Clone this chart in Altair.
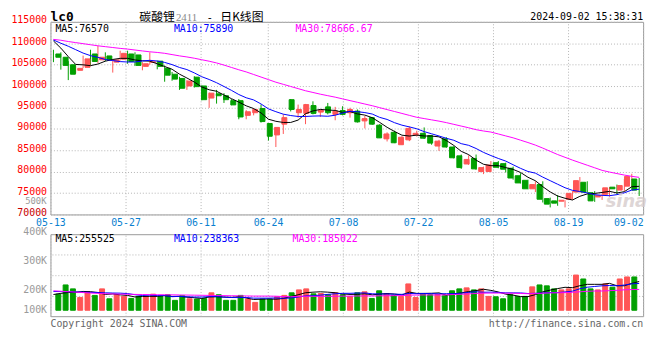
import altair as alt
import pandas as pd

# ---------------- data ----------------
day = list(range(1, 81))

open_ = [107491, 106728, 104974, 103677, 104364, 107491, 106118, 107033, 105584, 106271,
         107491, 107262, 104593, 105508, 105813, 104135, 102762, 101771, 100016, 102076,
         100017, 97195, 98186, 97729, 96585, 96585, 93152, 93763, 94754, 91245,
         88576, 91093, 96813, 93763, 93610, 95440, 93915, 95135, 93381, 94296,
         93763, 94144, 91856, 92619, 90865, 87661, 89187, 86288, 87432, 88576,
         88958, 88424, 85983, 87661, 85754, 83695, 81788, 83085, 80034, 80034,
         82094, 81865, 80797, 79043, 77975, 75992, 76984, 73704, 73170, 73094,
         73552, 75229, 77518, 75077, 74085, 74695, 76374, 75687, 76603, 78280]
high = [108482, 107872, 105813, 104821, 107110, 108482, 109398, 107872, 106194, 108254,
        108254, 107872, 105584, 107872, 105965, 104821, 103296, 102152, 101389, 102305,
        100169, 98491, 99101, 98339, 96966, 96966, 94372, 94830, 95669, 91245,
        90330, 93381, 96966, 95669, 95822, 96432, 94525, 96051, 95135, 95288,
        94907, 94525, 92999, 92771, 91093, 89187, 89568, 88271, 90560, 89568,
        90331, 88576, 87432, 88043, 85907, 83998, 83847, 83998, 81178, 82475,
        82475, 82094, 81178, 79653, 78128, 77746, 77746, 73933, 74543, 73323,
        75458, 78738, 77746, 75458, 74924, 76450, 76984, 78280, 79501, 78509]
low = [105584, 103830, 101389, 102915, 104211, 104821, 105356, 105813, 103143, 105965,
       105203, 104669, 103677, 104974, 103906, 101008, 101237, 99101, 99101, 99635,
       96661, 94906, 95898, 96051, 95517, 92237, 92237, 93152, 91474, 87279,
       85754, 88805, 94068, 92618, 91093, 93381, 92771, 93381, 92008, 93152,
       92619, 91475, 90102, 90941, 87890, 87051, 86670, 86288, 87127, 88195,
       87661, 86288, 84839, 85602, 83085, 80644, 81560, 80416, 79424, 79882,
       80797, 79806, 78128, 77212, 75840, 75229, 72789, 71645, 72026, 71645,
       73399, 75077, 75077, 72941, 73399, 74162, 74695, 75458, 76450, 74314]
close = [106728, 104821, 102762, 104135, 106347, 105737, 106728, 106118, 106118, 107643,
         105737, 104821, 105203, 105661, 104593, 102533, 101618, 99483, 101161, 99864,
         96813, 98339, 97729, 96813, 95593, 92771, 93991, 94525, 91703, 88271,
         90330, 92618, 94525, 94525, 95669, 93610, 94372, 93763, 94144, 93381,
         94525, 91627, 92390, 91093, 87890, 88805, 86746, 88043, 90102, 88958,
         87814, 86670, 87127, 85754, 83237, 80949, 82855, 80644, 80949, 81560,
         81026, 80568, 78509, 77365, 75992, 76984, 73552, 72408, 72636, 73323,
         74924, 77899, 75229, 73170, 74467, 76221, 75992, 76755, 78891, 75687]
ma5 = [110540, 108860, 106880, 105050, 104960, 104760, 105140, 105810, 106210, 106470,
       106470, 106090, 105900, 105810, 105200, 104560, 103920, 102780, 101880, 100930,
       99790, 99130, 98780, 97910, 97060, 96250, 95380, 94740, 93720, 92250,
       91760, 91490, 91490, 92050, 93530, 94190, 94540, 94390, 94310, 93850,
       94040, 93490, 93210, 92600, 91510, 90360, 89390, 88520, 88320, 88530,
       88330, 88320, 88130, 87270, 86120, 84750, 83980, 82690, 81730, 81390,
       81410, 80950, 80520, 79810, 78690, 77880, 76480, 75260, 74310, 73780,
       73370, 74240, 74800, 74910, 75140, 75400, 75020, 75320, 76470, 76570]
ma10 = [110760, 110000, 109300, 108500, 107700, 107100, 106700, 106200, 105950, 105710,
        105620, 105620, 105860, 106010, 105840, 105520, 105010, 104340, 103850, 103070,
        102180, 101530, 100780, 99900, 99000, 98020, 97260, 96760, 95810, 94660,
        94010, 93430, 93110, 92890, 92890, 92980, 93020, 92940, 93180, 93690,
        94110, 94010, 93800, 93460, 92680, 92200, 91440, 90860, 90460, 90020,
        89350, 88850, 88330, 87790, 87330, 86540, 86150, 85410, 84500, 83760,
        83080, 82470, 81610, 80770, 80040, 79650, 78720, 77890, 77060, 76240,
        75630, 75360, 75030, 74610, 74460, 74380, 74630, 75060, 75690, 75890]
ma30 = [110900, 110700, 110400, 110150, 109900, 109650, 109400, 109200, 109000, 108800,
        108630, 108420, 108200, 108000, 107850, 107650, 107350, 107050, 106800, 106500,
        106150, 105800, 105400, 104900, 104350, 103800, 103300, 102700, 102100, 101500,
        100900, 100400, 99900, 99400, 98900, 98500, 98100, 97750, 97400, 97000,
        96600, 96200, 95800, 95400, 94950, 94500, 94050, 93600, 93150, 92700,
        92400, 92100, 91800, 91450, 91050, 90650, 90250, 89800, 89500, 89250,
        88800, 88350, 87900, 87350, 86800, 86200, 85500, 84750, 84000, 83350,
        82700, 82100, 81500, 80900, 80300, 79900, 79550, 79200, 78900, 78667]

# volumes in thousands
vol_k = [143, 225, 190, 114, 164, 132, 190, 102, 138, 123,
         105, 123, 123, 143, 123, 138, 88, 129, 102, 100,
         105, 155, 138, 88, 88, 132, 100, 70, 100, 100,
         120, 132, 155, 181, 190, 146, 149, 138, 155, 138,
         123, 155, 164, 105, 173, 146, 132, 123, 234, 114,
         146, 138, 140, 129, 173, 190, 199, 181, 190, 123,
         120, 102, 138, 123, 123, 208, 225, 217, 190, 181,
         190, 313, 278, 190, 181, 234, 205, 278, 296, 296]
vma5_k = [140, 150, 158, 160, 167.2, 165, 158, 140.4, 145.2, 137,
          131.6, 118.2, 122.4, 123.4, 123.4, 130, 123, 124.2, 116, 111.4,
          104.8, 118.2, 120, 117.2, 114.8, 120.2, 109.2, 95.6, 98, 100.4,
          98, 104.4, 121.4, 137.6, 155.6, 160.8, 164.2, 160.8, 155.6, 145.2,
          140.6, 141.8, 147, 137, 144, 148.6, 144, 135.8, 161.6, 149.8,
          149.8, 151, 154.4, 133.4, 145.2, 154, 166.2, 174.4, 186.6, 176.6,
          162.6, 143.2, 134.6, 121.2, 121.2, 138.8, 163.4, 179.2, 192.6, 204.2,
          200.6, 218.2, 230.4, 230.4, 230.4, 239.2, 217.6, 217.6, 238.8, 255.5]
vma10_k = [167, 166, 165, 163, 161, 159, 157, 155, 153, 152.1,
           148.3, 138.1, 131.4, 134.3, 130.2, 130.8, 120.6, 123.3, 119.7, 117.4,
           117.4, 120.6, 122.1, 116.6, 113.1, 112.5, 113.7, 107.8, 107.6, 107.6,
           109.1, 106.8, 108.5, 117.8, 128, 129.4, 134.3, 141.1, 146.6, 150.4,
           150.7, 153, 153.9, 146.3, 144.6, 144.6, 142.9, 141.4, 149.3, 146.9,
           149.2, 147.5, 145.1, 147.5, 147.5, 151.9, 158.6, 164.4, 160, 160.9,
           158.3, 154.7, 154.5, 153.9, 148.9, 150.7, 153.3, 156.9, 156.9, 162.7,
           169.7, 190.8, 204.8, 211.5, 217.3, 219.9, 217.9, 224, 234.6, 238.4]
vma30_k = [173, 169, 165, 161, 157, 153, 150, 147, 145, 143,
           142, 141, 140, 139, 138, 138, 137, 136, 135, 134,
           133, 132, 131, 130, 129, 128, 127, 126, 126, 125.7,
           124.9, 121.8, 120.7, 122.9, 123.8, 124.2, 122.9, 124.1, 124.6, 125.1,
           125.7, 126.8, 128.2, 126.9, 128.6, 128.8, 130.3, 130.1, 134.5, 135,
           136.3, 135.8, 135.8, 137.2, 140, 142, 145.3, 149, 152, 152.7,
           152.7, 151.7, 151.2, 149.2, 147, 149.1, 151.6, 154.2, 155.4, 156.8,
           159.1, 164.3, 168.1, 171, 171.2, 174.2, 176.6, 181.8, 183.8, 185.0]

tick_days = [0, 10, 20, 29, 39, 49, 59, 69, 79]
tick_labels = ["05-13", "05-27", "06-11", "06-24", "07-08", "07-22", "08-05", "08-19", "09-02"]
price_ticks = [70000, 75000, 80000, 85000, 90000, 95000, 100000, 105000, 110000, 115000]
vol_label_vals = [-17560, 158040, 412660, 676000]
vol_label_text = ["100K", "200K", "300K", "400K"]
vol_grid_vals = [122920, 307300, 491680]

# ---------------- styling ----------------
FONT = "DejaVu Sans Mono"
CJK = "Noto Sans CJK SC"
RED = "#ff5555"
GREEN = "#00a000"
GRID = "#b4b4b4"
W, H_MAIN, H_VOL = 600, 195, 83

df = pd.DataFrame({
    "n": day, "open": open_, "high": high, "low": low, "close": close,
    "ma5": ma5, "ma10": ma10, "ma30": ma30,
    "vol": [v * 1000 for v in vol_k],
    "vma5": [v * 1000 for v in vma5_k],
    "vma10": [v * 1000 for v in vma10_k],
    "vma30": [v * 1000 for v in vma30_k],
})
ticks_df = pd.DataFrame({"d": tick_days})
vgrid_df = pd.DataFrame({"g": vol_grid_vals})

date_expr = " : ".join(f"datum.value == {d} ? '{l}'" for d, l in zip(tick_days, tick_labels)) + " : ''"
vol_expr = " : ".join(f"datum.value == {v} ? '{t}'" for v, t in zip(vol_label_vals, vol_label_text)) + " : ''"

cand_scale = alt.Scale(domain=[0.6, 80.53], nice=False, zero=False)
day_scale = alt.Scale(domain=[0, 79], nice=False, zero=False)
price_scale = alt.Scale(domain=[70000, 115000], nice=False, zero=False)
vol_scale = alt.Scale(domain=[-52700, 676000], nice=False, zero=False)

xs = alt.X("n:Q", scale=cand_scale, axis=None)
price_axis = alt.Axis(values=price_ticks, format="d", title=None, grid=True, gridColor=GRID,
                      gridDash=[1, 2], ticks=False, domain=False, labelPadding=4, labelOffset=-2,
                      labelFont=FONT, labelFontSize=10,
                      labelColor={"condition": {"test": "datum.value == 70000", "value": "#c80000"},
                                  "value": "#ff0000"})
vol_axis = alt.Axis(values=vol_label_vals, labelExpr=vol_expr, title=None, grid=False, ticks=False,
                    domain=False, labelPadding=4, labelOffset=-3, labelColor="#9a9a9a",
                    labelFont=FONT, labelFontSize=10)
up_color = alt.condition("datum.close >= datum.open", alt.value(RED), alt.value(GREEN))


def txt(text, x, y, color="#000000", size=10, align="left", font=FONT, weight="normal",
        baseline="middle", style="normal", opacity=1.0):
    return alt.Chart(pd.DataFrame({"t": [text]})).mark_text(
        align=align, baseline=baseline, font=font, fontSize=size, color=color,
        fontWeight=weight, fontStyle=style, opacity=opacity
    ).encode(x=alt.value(x), y=alt.value(y), text="t:N")


# ---------------- main (price) panel ----------------
grid_main = alt.Chart(ticks_df).mark_point(opacity=0).encode(
    x=alt.X("d:Q", scale=day_scale,
            axis=alt.Axis(values=tick_days, labelExpr=date_expr, grid=True, gridColor=GRID,
                          gridDash=[1, 2], ticks=False, domain=False, labelPadding=3,
                          labelColor="#0a7fd0", labelFont=FONT, labelFontSize=10,
                          labelFlush=False, labelOverlap=False, title=None,
                          labelAlign={"condition": {"test": "datum.value == 79", "value": "right"},
                                      "value": "center"}))
)
base = alt.Chart(df)
wick = base.mark_rule(strokeWidth=1).encode(
    x=xs, y=alt.Y("low:Q", scale=price_scale, axis=price_axis), y2="high:Q", color=up_color)
body = base.mark_bar(size=5, strokeWidth=1).encode(
    x=xs, y=alt.Y("open:Q", scale=price_scale, axis=price_axis), y2="close:Q",
    color=up_color, stroke=up_color)
l5 = base.mark_line(color="#000000", strokeWidth=1).encode(
    x=xs, y=alt.Y("ma5:Q", scale=price_scale, axis=price_axis))
l10 = base.mark_line(color="#0000ff", strokeWidth=1).encode(
    x=xs, y=alt.Y("ma10:Q", scale=price_scale, axis=price_axis))
l30 = base.mark_line(color="#ff00ff", strokeWidth=1).encode(
    x=xs, y=alt.Y("ma30:Q", scale=price_scale, axis=price_axis))

main_texts = [
    txt("lc0", 0, -1, size=13, weight="bold", baseline="alphabetic"),
    txt("碳酸锂", 90, -1, size=12, font=CJK, baseline="alphabetic"),
    txt("2411", 127, -1, size=11, font="Liberation Serif", color="#8a8a8a", baseline="alphabetic"),
    txt("-", 158, -1, size=11, font=FONT, baseline="alphabetic"),
    txt("日K线图", 172, -1, size=12, font=CJK, baseline="alphabetic"),
    txt("2024-09-02 15:38:31", 600, -2, size=10, align="right", baseline="alphabetic"),
    txt("MA5:76570", 5, 7.5, color="#000000"),
    txt("MA10:75890", 125, 7.5, color="#0000ff"),
    txt("MA30:78666.67", 248, 7.5, color="#ff00ff"),
    txt("500K", -4, 181.8, color="#9a9a9a", size=9, align="right"),
    txt("sina", 604, 182, color="#d6cccc", size=18, weight="bold", style="italic",
        align="right", font="DejaVu Sans", opacity=0.8),
]

main = alt.layer(grid_main, wick, body, l5, l10, l30, *main_texts).resolve_scale(
    x="independent").properties(width=W, height=H_MAIN)

# ---------------- volume panel ----------------
grid_vol = alt.Chart(ticks_df).mark_point(opacity=0).encode(
    x=alt.X("d:Q", scale=day_scale,
            axis=alt.Axis(values=tick_days, labels=False, grid=True, gridColor=GRID,
                          gridDash=[1, 2], ticks=False, domain=False, title=None))
)
hgrid = alt.Chart(vgrid_df).mark_rule(color=GRID, strokeDash=[1, 2], strokeWidth=1).encode(
    y=alt.Y("g:Q", scale=vol_scale, axis=vol_axis))
bars = base.mark_bar(size=5, strokeWidth=1).encode(
    x=xs, y=alt.Y("vol:Q", scale=vol_scale, axis=vol_axis), y2=alt.datum(0),
    color=up_color, stroke=up_color)
v5 = base.mark_line(color="#000000", strokeWidth=1).encode(
    x=xs, y=alt.Y("vma5:Q", scale=vol_scale, axis=vol_axis))
v10 = base.mark_line(color="#0000ff", strokeWidth=1).encode(
    x=xs, y=alt.Y("vma10:Q", scale=vol_scale, axis=vol_axis))
v30 = base.mark_line(color="#ff00ff", strokeWidth=1).encode(
    x=xs, y=alt.Y("vma30:Q", scale=vol_scale, axis=vol_axis))

vol_texts = [
    txt("MA5:255525", 5, 5, color="#000000"),
    txt("MA10:238363", 125, 5, color="#0000ff"),
    txt("MA30:185022", 245, 5, color="#ff00ff"),
    txt("Copyright 2024 SINA.COM", 0, 91, color="#666666"),
    txt("http://finance.sina.com.cn", 600, 91, color="#666666", align="right"),
]

vol = alt.layer(grid_vol, hgrid, bars, v5, v10, v30, *vol_texts).resolve_scale(
    x="independent").properties(width=W, height=H_VOL)

chart = alt.vconcat(main, vol, spacing=20, bounds="flush").properties(
    padding={"left": 2, "top": 0, "right": 4, "bottom": 0}, background="white"
).configure_view(stroke="#999999", strokeWidth=1)

chart.save("out.html", embed_options={"renderer": "svg", "actions": False})
